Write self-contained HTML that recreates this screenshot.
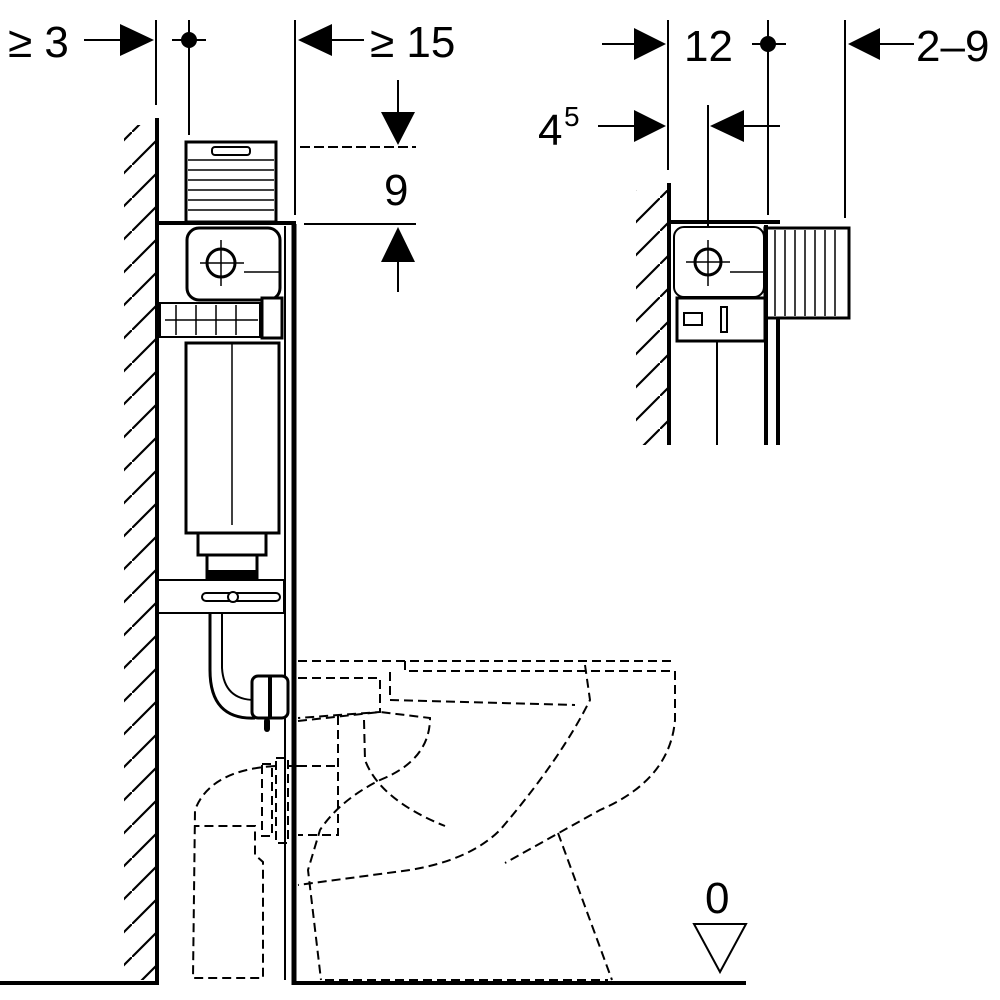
<!DOCTYPE html>
<html><head><style>
html,body{margin:0;padding:0;background:#fff;}
svg{display:block;}
text{font-family:"Liberation Sans",sans-serif;fill:#000;}
</style></head><body>
<svg width="1000" height="1000" viewBox="0 0 1000 1000" xmlns="http://www.w3.org/2000/svg">
<defs>
<pattern id="h" width="33" height="33" patternUnits="userSpaceOnUse">
<line x1="-2" y1="35" x2="35" y2="-2" stroke="#000" stroke-width="2.2"/>
</pattern>
<clipPath id="cl"><rect x="124" y="125" width="33" height="855"/></clipPath>
<clipPath id="cr"><rect x="636" y="190" width="32" height="255"/></clipPath>
</defs>
<g clip-path="url(#cl)"><rect x="110" y="120" width="50" height="870" fill="url(#h)"/></g>
<line x1="157" y1="118" x2="157" y2="985" stroke="#000" stroke-width="4"/>
<line x1="0" y1="983" x2="157" y2="983" stroke="#000" stroke-width="4"/>
<line x1="294" y1="224" x2="294" y2="985" stroke="#000" stroke-width="5"/>
<line x1="292" y1="983" x2="746" y2="983" stroke="#000" stroke-width="4"/>
<line x1="157" y1="223" x2="296" y2="223" stroke="#000" stroke-width="4"/>
<line x1="285" y1="226" x2="285" y2="980" stroke="#000" stroke-width="2"/>

<g stroke="#000" stroke-width="2" fill="none">
<line x1="156" y1="20" x2="156" y2="105"/>
<line x1="189" y1="20" x2="189" y2="135"/>
<line x1="295" y1="20" x2="295" y2="215"/>
<line x1="84" y1="40" x2="120" y2="40"/>
<line x1="332" y1="40" x2="364" y2="40"/>
<line x1="172" y1="40" x2="206" y2="40"/>
<line x1="398" y1="80" x2="398" y2="112"/>
<line x1="398" y1="262" x2="398" y2="292"/>
<line x1="300" y1="147" x2="416" y2="147" stroke-dasharray="10 4"/>
<line x1="304" y1="224" x2="416" y2="224"/>
</g>
<circle cx="189" cy="40" r="8" fill="#000"/>
<polygon points="120,24 154,40 120,56" fill="#000"/>
<polygon points="332,24 298,40 332,56" fill="#000"/>
<polygon points="381,112 415,112 398,145" fill="#000"/>
<polygon points="381,262 415,262 398,227" fill="#000"/>
<text x="8" y="57" font-size="44">≥ 3</text>
<text x="370" y="57" font-size="44">≥ 15</text>
<text x="384" y="205" font-size="44">9</text>

<g stroke="#000" fill="#fff">
<rect x="186" y="142" width="90" height="80" stroke-width="3"/>
<rect x="187" y="228" width="93" height="72" rx="12" stroke-width="3"/>
<rect x="160" y="303" width="100" height="34" stroke-width="2"/>
<rect x="262" y="298" width="20" height="40" stroke-width="3"/>
<rect x="186" y="343" width="93" height="190" stroke-width="3"/>
<rect x="198" y="533" width="68" height="22" stroke-width="3"/>
<rect x="207" y="555" width="50" height="25" stroke-width="3"/>
<rect x="158" y="580" width="126" height="33" stroke-width="2"/>
</g>
<g stroke="#000" stroke-width="1.5">
<line x1="188" y1="160" x2="274" y2="160"/><line x1="188" y1="170" x2="274" y2="170"/>
<line x1="188" y1="180" x2="274" y2="180"/><line x1="188" y1="190" x2="274" y2="190"/>
<line x1="188" y1="200" x2="274" y2="200"/><line x1="188" y1="210" x2="274" y2="210"/>
<line x1="232" y1="343" x2="232" y2="525"/>
<line x1="200" y1="263" x2="244" y2="263"/><line x1="221" y1="240" x2="221" y2="286"/>
<line x1="244" y1="272" x2="280" y2="272"/>
<line x1="176" y1="305" x2="176" y2="335"/><line x1="196" y1="305" x2="196" y2="335"/>
<line x1="216" y1="305" x2="216" y2="335"/><line x1="236" y1="305" x2="236" y2="335"/>
<line x1="165" y1="320" x2="258" y2="320"/>
</g>
<rect x="212" y="147" width="38" height="8" rx="3" fill="none" stroke="#000" stroke-width="2"/>
<circle cx="221" cy="263" r="14" fill="none" stroke="#000" stroke-width="3"/>
<rect x="208" y="570" width="48" height="10" fill="#000"/>
<rect x="202" y="593" width="78" height="8" rx="4" fill="none" stroke="#000" stroke-width="2"/>
<circle cx="233" cy="597" r="5" fill="#fff" stroke="#000" stroke-width="2"/>
<path d="M210 613 L210 670 Q210 720 255 718" fill="none" stroke="#000" stroke-width="3"/>
<path d="M222 613 L222 668 Q224 700 255 700" fill="none" stroke="#000" stroke-width="2"/>
<rect x="252" y="676" width="36" height="42" rx="6" fill="#fff" stroke="#000" stroke-width="3"/>
<line x1="270" y1="676" x2="270" y2="718" stroke="#000" stroke-width="4"/>
<rect x="264" y="718" width="6" height="14" rx="3" fill="#000"/>

<g fill="none" stroke="#000" stroke-width="2" stroke-dasharray="9 5">
<path d="M298 661 L676 661"/>
<path d="M405 661 L405 671 L675 671 L675 720 Q670 780 600 810 L505 863"/>
<path d="M298 678 L380 678 L380 712 L298 718"/>
<path d="M390 672 L390 700 L575 705"/>
<path d="M585 665 L590 700 Q560 760 500 830 Q470 860 410 870 L298 885"/>
<path d="M298 721 L380 712 L430 718 Q430 760 380 780 Q340 800 320 830 L308 870 L321 980"/>
<path d="M364 720 L365 760 Q380 800 445 826"/>
<path d="M338 716 L338 835 L298 835"/>
<path d="M298 766 L338 766"/>
<path d="M558 833 L612 980"/>
<path d="M325 980 L608 980"/>
<path d="M298 766 L285 766 M275 766 Q210 770 195 810 L193 978 L263 978 L263 862 L255 855 L255 826 L194 826"/>
<rect x="262" y="764" width="10" height="72"/>
<rect x="276" y="758" width="12" height="85"/>
</g>
<polygon points="694,924 746,924 720,972" fill="#fff" stroke="#000" stroke-width="2"/>
<text x="705" y="913" font-size="44">0</text>

<g clip-path="url(#cr)"><rect x="620" y="180" width="60" height="270" fill="url(#h)"/></g>
<line x1="669" y1="183" x2="669" y2="445" stroke="#000" stroke-width="4"/>
<g stroke="#000" stroke-width="2" fill="none">
<line x1="668" y1="20" x2="668" y2="170"/>
<line x1="768" y1="20" x2="768" y2="215"/>
<line x1="845" y1="20" x2="845" y2="218"/>
<line x1="708" y1="105" x2="708" y2="230"/>
<line x1="602" y1="44" x2="634" y2="44"/>
<line x1="752" y1="44" x2="786" y2="44"/>
<line x1="880" y1="44" x2="914" y2="44"/>
<line x1="598" y1="126" x2="634" y2="126"/>
<line x1="744" y1="126" x2="780" y2="126"/>
<line x1="717" y1="342" x2="717" y2="445"/>
</g>
<circle cx="768" cy="44" r="8" fill="#000"/>
<polygon points="634,28 666,44 634,60" fill="#000"/>
<polygon points="880,28 848,44 880,60" fill="#000"/>
<polygon points="634,110 666,126 634,142" fill="#000"/>
<polygon points="744,110 710,126 744,142" fill="#000"/>
<text x="684" y="61" font-size="44">12</text>
<text x="916" y="61" font-size="44">2–9</text>
<text x="538" y="145" font-size="44">4</text><text x="564" y="126" font-size="28">5</text>
<g stroke="#000" fill="#fff">
<line x1="669" y1="222" x2="780" y2="222" stroke-width="4"/>
<rect x="674" y="227" width="90" height="70" rx="10" stroke-width="2"/>
<rect x="677" y="298" width="88" height="43" stroke-width="3"/>
<rect x="765" y="228" width="84" height="90" stroke-width="3"/>
<line x1="766" y1="225" x2="766" y2="445" stroke-width="4"/>
<line x1="778" y1="318" x2="778" y2="445" stroke-width="4"/>
</g>
<g stroke="#000" stroke-width="1.5">
<line x1="775" y1="230" x2="775" y2="316"/><line x1="785" y1="230" x2="785" y2="316"/>
<line x1="795" y1="230" x2="795" y2="316"/><line x1="805" y1="230" x2="805" y2="316"/>
<line x1="815" y1="230" x2="815" y2="316"/><line x1="825" y1="230" x2="825" y2="316"/>
<line x1="835" y1="230" x2="835" y2="316"/>
<line x1="686" y1="262" x2="730" y2="262"/><line x1="708" y1="240" x2="708" y2="286"/>
<line x1="730" y1="272" x2="764" y2="272"/>
</g>
<circle cx="708" cy="262" r="13" fill="none" stroke="#000" stroke-width="3"/>
<rect x="684" y="313" width="18" height="12" fill="none" stroke="#000" stroke-width="2"/>
<rect x="721" y="307" width="6" height="25" fill="none" stroke="#000" stroke-width="2"/>
</svg>
</body></html>
